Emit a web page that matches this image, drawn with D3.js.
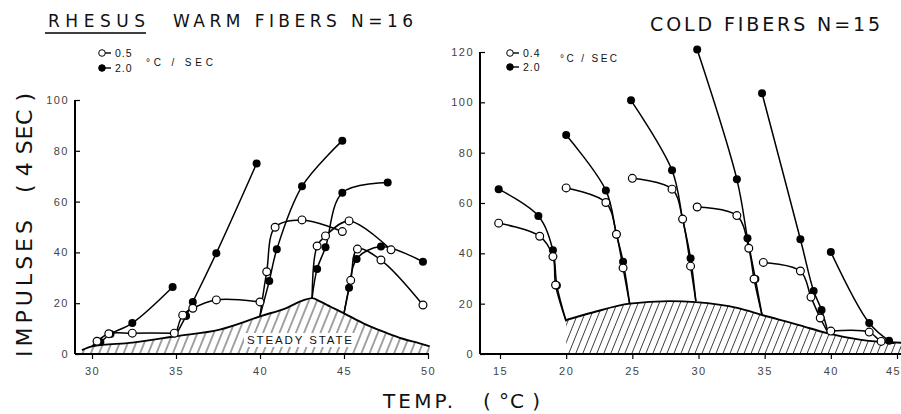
<!DOCTYPE html>
<html><head><meta charset="utf-8">
<script src="https://cdn.jsdelivr.net/npm/d3@7"></script>
<style>
body{margin:0;background:#fff}
text{font-family:"Liberation Sans",Arial,sans-serif;fill:#111}
.tick text{fill:#444;font-size:11px;letter-spacing:1.5px;font-family:"Liberation Sans",Arial,sans-serif}
.ttl{font-family:"DejaVu Sans","Liberation Sans",sans-serif;fill:#111}
</style>
</head><body>
<svg id="c" width="901" height="414" xmlns="http://www.w3.org/2000/svg"></svg>
<script>
// ---------- data ----------
const warmXTicks = [30,35,40,45,50];
const warmYTicks = [0,20,40,60,80,100];
const coldXTicks = [15,20,25,30,35,40,45];
const coldYTicks = [0,20,40,60,80,100,120];

// steady-state discharge (hatched)
const warmSteady = [[29.4,1.5],[30,3],[32.4,4.5],[35,7],[37.6,9.6],[40.1,15],[41.6,18.2],[42.6,21.2],[43.1,22],[43.6,20.6],[44.2,18.6],[45,16],[46.15,12.1],[47.5,8.4],[48.5,6],[49.5,4.2],[50.1,3]];
const coldSteady = [[20,13.5],[22,16.5],[24.8,20],[27.8,21],[29.8,20.6],[33,18.2],[34.8,15.5],[37.6,11.5],[39.7,8.3],[42.3,5.6],[45.6,4.4]];

// adapting (start) points on the steady-state curve, one per temperature step
const warmStarts = [[30,3],[35,7.5],[40,15],[43.1,22],[45,16]];
const coldStarts = [[20,13],[24.8,19.8],[29.8,21],[34.8,15.5],[39.8,8.3],[44.8,4.3]];

// WARM: 2.0 °C/sec (filled) and 0.5 °C/sec (open)
const warmFast = [
  [[30.5,4.7],[31.1,7.9],[32.4,12.2],[34.8,26.4]],
  [[35.6,15],[36,20.5],[37.4,39.7],[39.8,75]],
  [[40.55,28.7],[41,41.2],[42.5,66],[44.9,84]],
  [[43.4,33.5],[43.9,42],[44.9,63.5],[47.6,67.5]],
  [[45.3,26.1],[45.75,37.4],[47.2,42.3],[49.7,36.3]]
];
const warmSlow = [
  [[30.3,5],[31,8],[32.4,8.2],[34.9,8.2]],
  [[35.4,15.3],[36,18],[37.4,21.3],[40,20.5]],
  [[40.4,32.4],[40.9,49.9],[42.5,52.8],[44.9,48.2]],
  [[43.4,42.5],[43.9,46.5],[45.3,52.4],[47.8,41]],
  [[45.4,29],[45.8,41.3],[47.2,37],[49.7,19.3]]
];

// COLD: 2.0 °C/sec (filled) and 0.4 °C/sec (open)
const coldFast = [
  [[19.3,27.2],[19,41.2],[17.9,54.8],[14.9,65.5]],
  [[24.3,36.7],[23.8,47.6],[23,65],[20,87]],
  [[29.4,38],[28.8,53.6],[28,73],[24.9,100.8]],
  [[34.3,29.8],[33.7,46],[32.9,69.4],[29.9,121]],
  [[39.3,17.5],[38.7,25],[37.7,45.6],[34.8,103.6]],
  [[44.4,5.3],[42.9,12.3],[40,40.5]]
];
const coldSlow = [
  [[19.2,27.4],[19,38.7],[18,46.8],[14.9,52]],
  [[24.3,34.2],[23.8,47.6],[23,60.2],[20,66]],
  [[29.4,34.9],[28.8,53.6],[28,65.5],[25,69.8]],
  [[34.2,29.8],[33.8,42],[32.9,55],[29.9,58.4]],
  [[39.2,14.3],[38.5,22.6],[37.7,33],[34.9,36.4]],
  [[43.8,5],[42.9,8.7],[40,9.1]]
];

const warmLegend = ["0.5","2.0"];
const coldLegend = ["0.4","2.0"];

// ---------- drawing ----------
const svg = d3.select('#c');
svg.append('rect').attr('width',901).attr('height',414).attr('fill','#fff');

const defs = svg.append('defs');
function hatch(id, w){
  const p = defs.append('pattern').attr('id',id).attr('patternUnits','userSpaceOnUse')
    .attr('width',w).attr('height',20).attr('patternTransform','rotate(22)');
  p.append('line').attr('x1',w/2).attr('x2',w/2).attr('y1',0).attr('y2',20)
    .attr('stroke','#222').attr('stroke-width',0.85);
}
hatch('hw',7.6); hatch('hc',6.5);

function panel(c){
  const x = d3.scaleLinear().domain(c.xDom).range(c.xRng);
  const y = d3.scaleLinear().domain(c.yDom).range(c.yRng);
  const g = svg.append('g');

  // steady state area
  const area = d3.area().x(d=>x(d[0])).y0(y(0)).y1(d=>y(d[1])).curve(d3.curveMonotoneX);
  g.append('path').datum(c.steady).attr('d',area).attr('fill',`url(#${c.hatch})`);
  if (c.label){
    g.append('rect').attr('x',c.label.x-3).attr('y',c.label.y-11).attr('width',c.label.w+6).attr('height',14).attr('fill','#fff');
    g.append('text').attr('x',c.label.x).attr('y',c.label.y).attr('font-size',11.5)
      .attr('textLength',c.label.w).attr('lengthAdjust','spacing').text('STEADY STATE');
  }
  const ln = d3.line().x(d=>x(d[0])).y(d=>y(d[1])).curve(d3.curveMonotoneX);
  g.append('path').datum(c.steady).attr('d',ln).attr('fill','none').attr('stroke','#000').attr('stroke-width',1.9);

  // axes
  const xa = g.append('g').attr('transform',`translate(0,${y(0)})`)
    .call(d3.axisBottom(x).tickValues(c.xTicks).tickSize(5).tickSizeOuter(0).tickPadding(8).tickFormat(d3.format('d')));
  xa.select('.domain').remove();
  xa.selectAll('line').attr('stroke','#000').attr('stroke-width',1.2);
  if (c.lastDx) xa.selectAll('.tick text').filter((d,i,n)=>i===n.length-1).attr('dx',c.lastDx);
  g.append('line').attr('x1',c.axisX).attr('x2',c.axisEnd).attr('y1',y(0)).attr('y2',y(0)).attr('stroke','#000').attr('stroke-width',2);

  const ya = g.append('g').attr('transform',`translate(${c.axisX},0)`)
    .call(d3.axisLeft(y).tickValues(c.yTicks).tickSize(-5).tickSizeOuter(0).tickPadding(6).tickFormat(d3.format('d')));
  ya.select('.domain').remove();
  ya.selectAll('line').attr('stroke','#000').attr('stroke-width',1.2);
  g.append('line').attr('x1',c.axisX).attr('x2',c.axisX).attr('y1',y(0)).attr('y2',y(c.yTicks[c.yTicks.length-1])).attr('stroke','#000').attr('stroke-width',2);

  // response curves
  const cr = d3.line().x(d=>x(d[0])).y(d=>y(d[1])).curve(d3.curveCatmullRom.alpha(0.5));
  const all = [];
  c.starts.forEach((s,i)=>{
    [c.fast[i], c.slow[i]].forEach(pts=>{
      all.push([s].concat(pts));
    });
  });
  g.append('g').selectAll('path').data(all).join('path')
    .attr('d',cr).attr('fill','none').attr('stroke','#000').attr('stroke-width',1.5);

  g.append('g').selectAll('circle').data(c.fast.flat()).join('circle')
    .attr('cx',d=>x(d[0])).attr('cy',d=>y(d[1])).attr('r',4).attr('fill','#000');
  g.append('g').selectAll('circle').data(c.slow.flat()).join('circle')
    .attr('cx',d=>x(d[0])).attr('cy',d=>y(d[1])).attr('r',3.9).attr('fill','#fff').attr('stroke','#000').attr('stroke-width',1.2);

  // legend
  const L = c.legend;
  [[L.x, L.y1, false, c.legendText[0]],[L.x, L.y2, true, c.legendText[1]]].forEach(([lx,ly,filled,t])=>{
    g.append('line').attr('x1',lx+2).attr('x2',lx+9).attr('y1',ly).attr('y2',ly).attr('stroke','#000').attr('stroke-width',1.4);
    g.append('circle').attr('cx',lx).attr('cy',ly).attr('r',3.3)
      .attr('fill',filled?'#000':'#fff').attr('stroke','#000').attr('stroke-width',1);
    g.append('text').attr('x',lx+13).attr('y',ly+4).attr('font-size',10.5).attr('fill','#333')
      .attr('letter-spacing',1).text(t);
  });
  g.append('text').attr('x',L.ux).attr('y',L.uy).attr('font-size',10).attr('fill','#333')
    .attr('textLength',L.uw).attr('lengthAdjust','spacing').text('°C / SEC');
}

panel({
  xDom:[30,50], xRng:[92,428], yDom:[0,100], yRng:[354,100],
  axisX:75, axisEnd:429, xTicks:warmXTicks, yTicks:warmYTicks,
  steady:warmSteady, hatch:'hw', starts:warmStarts, fast:warmFast, slow:warmSlow,
  label:{x:247,y:344,w:105},
  legend:{x:102,y1:53,y2:68,ux:146,uy:66,uw:67}, legendText:warmLegend
});
panel({
  xDom:[15,45], xRng:[500,897], yDom:[0,120], yRng:[354,52],
  axisX:480, axisEnd:901, xTicks:coldXTicks, yTicks:coldYTicks,
  steady:coldSteady, hatch:'hc', starts:coldStarts, fast:coldFast, slow:coldSlow,
  label:null, lastDx:-4,
  legend:{x:510,y1:53,y2:67,ux:560,uy:62,uw:57}, legendText:coldLegend
});

// titles
svg.append('text').attr('class','ttl').attr('x',48).attr('y',27).attr('font-size',17).attr('textLength',97).attr('lengthAdjust','spacing').text('RHESUS');
svg.append('line').attr('x1',45).attr('x2',146).attr('y1',33).attr('y2',33).attr('stroke','#000').attr('stroke-width',1.6);
svg.append('text').attr('class','ttl').attr('x',173).attr('y',27).attr('font-size',17).attr('textLength',240).attr('lengthAdjust','spacing').text('WARM FIBERS N=16');
svg.append('text').attr('class','ttl').attr('x',650).attr('y',31).attr('font-size',19).attr('textLength',230).attr('lengthAdjust','spacing').text('COLD FIBERS N=15');

// axis titles
svg.append('text').attr('class','ttl').attr('transform','translate(32,357) rotate(-90)').attr('font-size',22)
  .attr('textLength',137).attr('lengthAdjust','spacing').text('IMPULSES');
svg.append('text').attr('class','ttl').attr('transform','translate(32,193) rotate(-90)').attr('font-size',22)
  .attr('textLength',100).attr('lengthAdjust','spacing').text('( 4 SEC )');
svg.append('text').attr('class','ttl').attr('x',383).attr('y',408).attr('font-size',20).attr('textLength',70).attr('lengthAdjust','spacing').text('TEMP.');
svg.append('text').attr('class','ttl').attr('x',483).attr('y',408).attr('font-size',20).attr('textLength',57).attr('lengthAdjust','spacing').text('( °C )');
</script>
</body></html>
